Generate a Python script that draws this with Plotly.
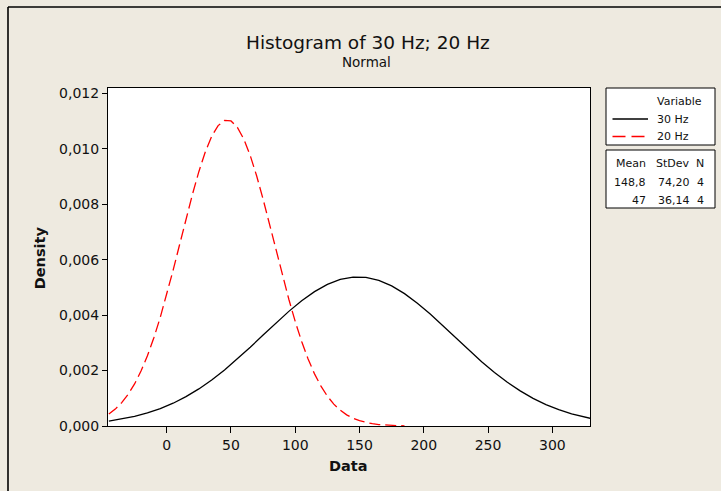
import plotly.graph_objects as go

# ---- data ----
x_30hz = [-45, -35, -25, -15, -5, 5, 15, 25, 35, 45, 55, 65, 75, 85, 95, 105, 115, 125,
          135, 145, 155, 165, 175, 185, 195, 205, 215, 225, 235, 245, 255, 265, 275,
          285, 295, 305, 315, 325, 330]
d_30hz = [0.000177, 0.000250, 0.000346, 0.000470, 0.000628, 0.000822, 0.001058, 0.001337,
          0.001659, 0.002021, 0.002418, 0.002841, 0.003279, 0.003715, 0.004134, 0.004517,
          0.004847, 0.005107, 0.005285, 0.005370, 0.005358, 0.005250, 0.005052, 0.004773,
          0.004429, 0.004036, 0.003611, 0.003173, 0.002738, 0.002320, 0.001931, 0.001578,
          0.001266, 0.000997, 0.000772, 0.000587, 0.000438, 0.000321, 0.000273]

x_20hz = [-45, -40, -35, -30, -25, -20, -15, -10, -5, 0, 5, 10, 15, 20, 25, 30, 35, 40, 45,
          50, 55, 60, 65, 70, 75, 80, 85, 90, 95, 100, 105, 110, 115, 120, 125, 130, 135,
          140, 145, 150, 155, 160, 165, 170, 175, 180, 185]
d_20hz = [0.000432, 0.000609, 0.000841, 0.001141, 0.001517, 0.001980, 0.002534, 0.003182,
          0.003921, 0.004739, 0.005619, 0.006536, 0.007459, 0.008351, 0.009172, 0.009883,
          0.010447, 0.010834, 0.011022, 0.011001, 0.010772, 0.010347, 0.009751, 0.009015,
          0.008177, 0.007276, 0.006351, 0.005439, 0.004570, 0.003766, 0.003045, 0.002416,
          0.001880, 0.001436, 0.001075, 0.000790, 0.000569, 0.000403, 0.000279, 0.000190,
          0.000127, 0.000083, 0.000053, 0.000034, 0.000021, 0.000013, 0.000008]

series_names = ["30 Hz", "20 Hz"]
means = ["148,8", "47"]
stdevs = ["74,20", "36,14"]
ns = ["4", "4"]

x_ticks = [0, 50, 100, 150, 200, 250, 300]
y_ticks = [0.000, 0.002, 0.004, 0.006, 0.008, 0.010, 0.012]

# ---- layout helpers (pixel -> paper) ----
W, H = 721, 491
ML, MR, MT, MB = 108, 131, 88, 65
PW, PH = W - ML - MR, H - MT - MB


def X(px):
    return (px - ML) / PW


def Y(py):
    return (H - MB - py) / PH


FONT = "DejaVu Sans"
BG = "#EEEAE0"
TXT = "#111111"

fig = go.Figure()
fig.add_trace(go.Scatter(x=x_30hz, y=d_30hz, mode="lines", name=series_names[0],
                         line=dict(color="black", width=1.3), showlegend=False))
fig.add_trace(go.Scatter(x=x_20hz, y=d_20hz, mode="lines", name=series_names[1],
                         line=dict(color="#FF0000", width=1.3, dash="11px,5px"),
                         showlegend=False))

shapes = []
# outer frame (left & top visible)
shapes.append(dict(type="line", xref="paper", yref="paper", x0=X(8), x1=X(8), y0=Y(7), y1=Y(500),
                   line=dict(color="black", width=1.6)))
shapes.append(dict(type="line", xref="paper", yref="paper", x0=X(8), x1=X(730), y0=Y(7), y1=Y(7),
                   line=dict(color="black", width=1.6)))
# legend boxes
shapes.append(dict(type="rect", xref="paper", yref="paper", x0=X(606), x1=X(715), y0=Y(145), y1=Y(88),
                   line=dict(color="black", width=1), fillcolor="white"))
shapes.append(dict(type="rect", xref="paper", yref="paper", x0=X(606), x1=X(715), y0=Y(208), y1=Y(150),
                   line=dict(color="black", width=1), fillcolor="white"))
# legend line samples
shapes.append(dict(type="line", xref="paper", yref="paper", x0=X(612.5), x1=X(648), y0=Y(119), y1=Y(119),
                   line=dict(color="black", width=1.3)))
shapes.append(dict(type="line", xref="paper", yref="paper", x0=X(612.5), x1=X(648), y0=Y(136.5), y1=Y(136.5),
                   line=dict(color="#FF0000", width=1.3, dash="13px,6px")))

ann = []


def txt(t, px, py, anchor="left", size=11, bold=False, angle=0):
    ann.append(dict(text=("<b>%s</b>" % t) if bold else t, xref="paper", yref="paper",
                    x=X(px), y=Y(py), xanchor=anchor, yanchor="middle", showarrow=False,
                    textangle=angle, font=dict(family=FONT, size=size, color=TXT)))


txt("Histogram of 30 Hz; 20 Hz", 368.3, 42.5, "center", 18.5)
txt("Normal", 366, 62, "center", 13.5)
txt("Data", 348, 465.5, "center", 14.5, bold=True)
txt("Density", 40, 258.3, "center", 14.5, bold=True, angle=-90)

txt("Variable", 654.5, 101.7, "left")
txt(series_names[0], 655, 119, "left")
txt(series_names[1], 655, 136.5, "left")

txt("Mean", 648, 163.5, "right")
txt("StDev", 692, 163.5, "right")
txt("N", 706, 163.5, "right")
for i in range(2):
    yy = 182 + i * 18.7
    txt(means[i], 648, yy, "right")
    txt(stdevs[i], 692, yy, "right")
    txt(ns[i], 706, yy, "right")

fig.update_layout(
    width=W, height=H,
    margin=dict(l=ML, r=MR, t=MT, b=MB),
    paper_bgcolor=BG, plot_bgcolor="white",
    separators=",.",
    shapes=shapes, annotations=ann,
    showlegend=False,
    xaxis=dict(range=[-45.67, 329.3], tickvals=x_ticks, showgrid=False, zeroline=False,
               showline=True, mirror=True, linecolor="black", linewidth=1,
               ticks="outside", ticklen=6, tickcolor="black",
               tickfont=dict(family=FONT, size=14, color=TXT)),
    yaxis=dict(range=[0, 0.01219], tickvals=y_ticks, tickformat=".3f", showgrid=False,
               zeroline=False, showline=True, mirror=True, linecolor="black", linewidth=1,
               ticks="outside", ticklen=5, tickcolor="black",
               tickfont=dict(family=FONT, size=14, color=TXT)),
)

fig.write_html("out.html", config={"displayModeBar": False},
               post_script="document.body.style.margin='0';document.body.style.background='%s';" % BG)
